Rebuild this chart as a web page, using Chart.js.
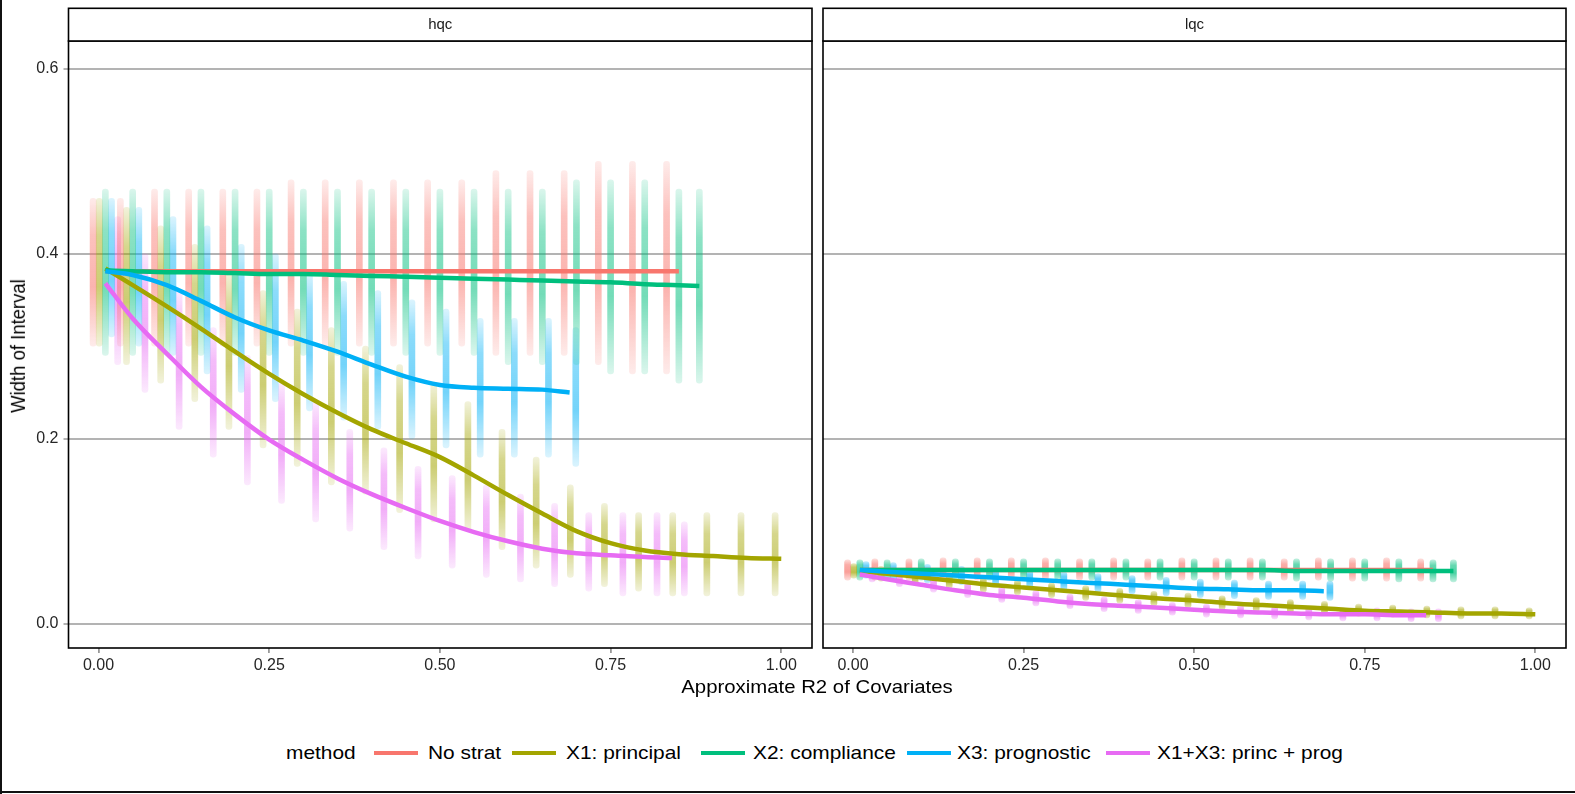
<!DOCTYPE html>
<html>
<head>
<meta charset="utf-8">
<script src="https://cdn.jsdelivr.net/npm/chart.js@4.4.0/dist/chart.umd.min.js"></script>
<style>
html,body{margin:0;padding:0;background:#fff;}
#wrap{position:relative;width:1575px;height:794px;overflow:hidden;background:#fff;font-family:"Liberation Sans",Arial,Helvetica,sans-serif;color:#000;}
#frameL{position:absolute;left:0;top:0;width:2px;height:794px;background:#111;}
#frameB{position:absolute;left:0;top:791px;width:1575px;height:2px;background:#111;}
.cv{position:absolute;top:0;}
#ytitle{position:absolute;left:18px;top:346px;transform:translate(-50%,-50%) rotate(-90deg) scaleY(1.1);font-size:18.5px;white-space:nowrap;}
#xtitle{position:absolute;left:817px;top:687px;transform:translate(-50%,-50%) scaleX(1.1);font-size:18.5px;white-space:nowrap;}
.lg{position:absolute;top:753px;font-size:19px;white-space:nowrap;transform-origin:0 50%;transform:translateY(-50%) scaleX(1.1);}
.key{position:absolute;top:751px;height:4px;}
</style>
</head>
<body>
<div id="wrap">
  <div id="frameL"></div>
  <div id="frameB"></div>
  <canvas id="cA" class="cv" style="left:0px" width="818" height="700"></canvas>
  <canvas id="cB" class="cv" style="left:818px" width="757" height="700"></canvas>
  <div id="ytitle">Width of Interval</div>
  <div id="xtitle">Approximate R2 of Covariates</div>
</div>
<script>
// ---------------- data ----------------
const facets = ['hqc', 'lqc'];
const methods = ['No strat', 'X1: principal', 'X2: compliance', 'X3: prognostic', 'X1+X3: princ + prog'];
const methodColors = ['#F8766D', '#A3A500', '#00BF7D', '#00B0F6', '#E76BF3'];
const xTickValues = [0, 0.25, 0.5, 0.75, 1];
const xTickLabels = ['0.00', '0.25', '0.50', '0.75', '1.00'];
const yTickValues = [0, 0.2, 0.4, 0.6];
const yTickLabels = ['0.0', '0.2', '0.4', '0.6'];

// R2 values (x) at which each method's simulations sit (shared by both facets)
const noStratX   = [0.01,0.05,0.10,0.15,0.20,0.25,0.30,0.35,0.40,0.45,0.50,0.55,0.60,0.65,0.70,0.75,0.80,0.85];
const principalX = [0.01,0.05,0.10,0.15,0.20,0.25,0.30,0.35,0.40,0.45,0.50,0.55,0.60,0.65,0.70,0.75,0.80,0.85,0.90,0.95,1.00];
const complianceX= [0.01,0.05,0.10,0.15,0.20,0.25,0.30,0.35,0.40,0.45,0.50,0.55,0.60,0.65,0.70,0.75,0.80,0.85,0.88];
const prognosticX= [0.01,0.05,0.10,0.15,0.20,0.25,0.30,0.35,0.40,0.45,0.50,0.55,0.60,0.65,0.69];
const princProgX = [0.01,0.05,0.10,0.15,0.20,0.25,0.30,0.35,0.40,0.45,0.50,0.55,0.60,0.65,0.70,0.75,0.80,0.84];

// ---- hqc: point cloud (low / high of each vertical stripe) ----
const hqcNoStratLo    = [0.30,0.30,0.30,0.30,0.30,0.30,0.30,0.30,0.30,0.30,0.30,0.30,0.29,0.29,0.29,0.28,0.27,0.27];
const hqcNoStratHi    = [0.46,0.46,0.47,0.47,0.47,0.47,0.48,0.48,0.48,0.48,0.48,0.48,0.49,0.49,0.49,0.50,0.50,0.50];
const hqcPrincipalLo  = [0.30,0.28,0.26,0.24,0.21,0.19,0.17,0.15,0.14,0.12,0.11,0.10,0.08,0.06,0.05,0.04,0.035,0.03,0.03,0.03,0.03];
const hqcPrincipalHi  = [0.46,0.45,0.43,0.41,0.38,0.36,0.34,0.32,0.30,0.28,0.26,0.24,0.21,0.18,0.15,0.13,0.12,0.12,0.12,0.12,0.12];
const hqcComplianceLo = [0.29,0.29,0.29,0.29,0.29,0.29,0.29,0.29,0.29,0.29,0.29,0.29,0.28,0.28,0.28,0.27,0.27,0.26,0.26];
const hqcComplianceHi = [0.47,0.47,0.47,0.47,0.47,0.47,0.47,0.47,0.47,0.47,0.47,0.47,0.47,0.47,0.48,0.48,0.48,0.47,0.47];
const hqcPrognosticLo = [0.31,0.30,0.29,0.27,0.25,0.24,0.23,0.22,0.21,0.20,0.19,0.18,0.18,0.18,0.17];
const hqcPrognosticHi = [0.46,0.45,0.44,0.43,0.41,0.40,0.38,0.37,0.36,0.35,0.34,0.33,0.33,0.33,0.32];
const hqcPrincProgLo  = [0.28,0.25,0.21,0.18,0.15,0.13,0.11,0.10,0.08,0.07,0.06,0.05,0.045,0.04,0.035,0.03,0.03,0.03];
const hqcPrincProgHi  = [0.44,0.40,0.36,0.32,0.29,0.26,0.24,0.21,0.19,0.17,0.16,0.15,0.14,0.13,0.12,0.12,0.12,0.11];
// ---- hqc: smoothed fits ----
const hqcNoStratFit    = [0.381,0.381,0.381,0.381,0.381,0.381,0.381,0.381,0.381,0.381,0.381,0.381,0.381,0.381,0.381,0.381,0.381,0.381];
const hqcPrincipalFit  = [0.384,0.366,0.343,0.319,0.294,0.270,0.248,0.228,0.210,0.195,0.180,0.160,0.139,0.119,0.100,0.087,0.079,0.075,0.073,0.071,0.070];
const hqcComplianceFit = [0.382,0.381,0.380,0.380,0.379,0.378,0.378,0.377,0.376,0.375,0.374,0.373,0.372,0.371,0.370,0.369,0.367,0.366,0.365];
const hqcPrognosticFit = [0.381,0.377,0.366,0.349,0.331,0.317,0.306,0.294,0.280,0.267,0.258,0.255,0.254,0.253,0.250];
const hqcPrincProgFit  = [0.368,0.330,0.292,0.256,0.226,0.199,0.177,0.157,0.140,0.125,0.111,0.099,0.089,0.081,0.076,0.074,0.072,0.071];

// ---- lqc: point cloud ----
const lqcNoStratLo    = [0.047,0.047,0.047,0.047,0.047,0.047,0.047,0.047,0.047,0.047,0.047,0.047,0.047,0.047,0.047,0.046,0.046,0.046];
const lqcNoStratHi    = [0.069,0.070,0.070,0.071,0.071,0.071,0.071,0.070,0.071,0.070,0.071,0.071,0.071,0.070,0.071,0.071,0.071,0.070];
const lqcPrincipalLo  = [0.049,0.046,0.042,0.038,0.034,0.031,0.028,0.025,0.022,0.019,0.017,0.015,0.013,0.011,0.009,0.008,0.007,0.006,0.005,0.005,0.005];
const lqcPrincipalHi  = [0.065,0.062,0.058,0.054,0.050,0.047,0.044,0.041,0.038,0.035,0.033,0.030,0.028,0.026,0.024,0.021,0.020,0.019,0.018,0.018,0.017];
const lqcComplianceLo = [0.047,0.047,0.047,0.047,0.047,0.047,0.047,0.047,0.047,0.047,0.047,0.047,0.047,0.046,0.046,0.046,0.045,0.045,0.045];
const lqcComplianceHi = [0.069,0.069,0.070,0.070,0.070,0.070,0.070,0.070,0.070,0.070,0.070,0.070,0.070,0.070,0.070,0.070,0.070,0.069,0.069];
const lqcPrognosticLo = [0.049,0.046,0.044,0.042,0.040,0.038,0.036,0.034,0.032,0.030,0.028,0.027,0.026,0.026,0.025];
const lqcPrognosticHi = [0.067,0.066,0.064,0.062,0.060,0.058,0.056,0.054,0.052,0.050,0.048,0.047,0.046,0.046,0.046];
const lqcPrincProgLo  = [0.045,0.040,0.034,0.028,0.023,0.019,0.016,0.013,0.011,0.009,0.007,0.006,0.005,0.004,0.003,0.003,0.002,0.002];
const lqcPrincProgHi  = [0.061,0.057,0.051,0.045,0.040,0.036,0.032,0.029,0.026,0.023,0.021,0.020,0.019,0.018,0.017,0.017,0.016,0.016];
// ---- lqc: smoothed fits ----
const lqcNoStratFit    = [0.058,0.058,0.058,0.058,0.058,0.058,0.058,0.058,0.058,0.058,0.058,0.058,0.058,0.058,0.058,0.058,0.058,0.058];
const lqcPrincipalFit  = [0.057,0.054,0.050,0.046,0.042,0.039,0.036,0.033,0.030,0.027,0.025,0.022,0.020,0.018,0.016,0.014,0.013,0.012,0.011,0.011,0.010];
const lqcComplianceFit = [0.058,0.058,0.058,0.058,0.058,0.058,0.058,0.058,0.058,0.058,0.058,0.058,0.058,0.057,0.057,0.057,0.057,0.057,0.057];
const lqcPrognosticFit = [0.058,0.056,0.054,0.052,0.050,0.048,0.046,0.044,0.042,0.040,0.038,0.037,0.036,0.036,0.035];
const lqcPrincProgFit  = [0.053,0.048,0.042,0.036,0.031,0.028,0.024,0.021,0.019,0.017,0.015,0.013,0.012,0.011,0.010,0.010,0.009,0.009];

// ---------------- assembly ----------------
const xsByMethod = [noStratX, principalX, complianceX, prognosticX, princProgX];
const facetData = {
  hqc: {
    lo:  [hqcNoStratLo, hqcPrincipalLo, hqcComplianceLo, hqcPrognosticLo, hqcPrincProgLo],
    hi:  [hqcNoStratHi, hqcPrincipalHi, hqcComplianceHi, hqcPrognosticHi, hqcPrincProgHi],
    fit: [hqcNoStratFit, hqcPrincipalFit, hqcComplianceFit, hqcPrognosticFit, hqcPrincProgFit]
  },
  lqc: {
    lo:  [lqcNoStratLo, lqcPrincipalLo, lqcComplianceLo, lqcPrognosticLo, lqcPrincProgLo],
    hi:  [lqcNoStratHi, lqcPrincipalHi, lqcComplianceHi, lqcPrognosticHi, lqcPrincProgHi],
    fit: [lqcNoStratFit, lqcPrincipalFit, lqcComplianceFit, lqcPrognosticFit, lqcPrincProgFit]
  }
};
// visual density of the point clouds per facet (style, not data)
const cloudAlpha = { hqc: [0.14, 0.45, 0.55, 0.14], lqc: [0.25, 0.6, 0.7, 0.25] };

function rgba(hex, a) {
  const n = parseInt(hex.slice(1), 16);
  return 'rgba(' + ((n >> 16) & 255) + ',' + ((n >> 8) & 255) + ',' + (n & 255) + ',' + a + ')';
}
function stripeFill(hex, al) {
  return function (ctx) {
    const chart = ctx.chart;
    const ys = chart.scales && chart.scales.y;
    const raw = ctx.raw;
    if (!ys || !raw || !Array.isArray(raw.y)) return rgba(hex, al[1]);
    const pHi = ys.getPixelForValue(raw.y[1]);
    const pLo = ys.getPixelForValue(raw.y[0]);
    if (!isFinite(pHi) || !isFinite(pLo) || Math.abs(pLo - pHi) < 1) return rgba(hex, al[1]);
    const g = chart.ctx.createLinearGradient(0, pHi, 0, pLo);
    g.addColorStop(0, rgba(hex, al[0]));
    g.addColorStop(0.25, rgba(hex, al[1]));
    g.addColorStop(0.6, rgba(hex, al[2]));
    g.addColorStop(1, rgba(hex, al[3]));
    return g;
  };
}

const DODGE = 0.009; // horizontal dodge between methods (like position_dodge)

function buildDatasets(facet) {
  const d = facetData[facet];
  const sets = [];
  methods.forEach((m, k) => {
    const xs = xsByMethod[k];
    sets.push({
      type: 'bar',
      label: m + ' points',
      data: xs.map((x, i) => ({ x: x + (k - 2) * DODGE, y: [d.lo[k][i], d.hi[k][i]] })),
      backgroundColor: stripeFill(methodColors[k], cloudAlpha[facet]),
      borderWidth: 0,
      borderSkipped: false,
      borderRadius: 3,
      barThickness: 6,
      grouped: false,
      order: 20 + k
    });
  });
  methods.forEach((m, k) => {
    const xs = xsByMethod[k];
    sets.push({
      type: 'line',
      label: m,
      data: xs.map((x, i) => ({ x: x, y: d.fit[k][i] })),
      borderColor: methodColors[k],
      backgroundColor: methodColors[k],
      borderWidth: 4.5,
      pointRadius: 0,
      fill: false,
      cubicInterpolationMode: 'monotone',
      order: 10 - k
    });
  });
  return sets;
}

const stripPlugin = {
  id: 'strip',
  afterDraw(chart, args, opts) {
    const a = chart.chartArea;
    const c = chart.ctx;
    c.save();
    c.lineWidth = 1.6;
    c.strokeStyle = '#000';
    c.strokeRect(a.left, a.top, a.right - a.left, a.bottom - a.top);
    const sTop = a.top - 32.7;
    c.fillStyle = '#fff';
    c.fillRect(a.left, sTop, a.right - a.left, 32.7);
    c.strokeRect(a.left, sTop, a.right - a.left, 32.7);
    c.fillStyle = '#1a1a1a';
    c.font = '15px "Liberation Sans", Arial, sans-serif';
    c.textAlign = 'center';
    c.textBaseline = 'middle';
    c.fillText(opts.label, (a.left + a.right) / 2, sTop + 16.5);
    c.restore();
  }
};

function makeChart(canvasId, facet, showY, padding, yWidth) {
  return new Chart(document.getElementById(canvasId), {
    type: 'bar',
    data: { datasets: buildDatasets(facet) },
    options: {
      responsive: false,
      devicePixelRatio: 1,
      animation: false,
      events: [],
      layout: { padding: padding },
      plugins: { legend: { display: false }, tooltip: { enabled: false }, strip: { label: facet } },
      scales: {
        x: {
          type: 'linear',
          min: -0.044, max: 1.045,
          offset: false,
          afterBuildTicks: s => { s.ticks = xTickValues.map(v => ({ value: v })); },
          afterFit: s => { s.height = 52; },
          ticks: {
            callback: (v) => xTickLabels[xTickValues.indexOf(v)],
            color: '#262626', font: { size: 16, family: '"Liberation Sans", Arial, sans-serif' },
            padding: 3, maxRotation: 0, autoSkip: false
          },
          grid: { offset: false, drawOnChartArea: false, drawTicks: true, tickLength: 5, color: '#999999', lineWidth: 1.8 },
          border: { display: false }
        },
        y: {
          type: 'linear',
          min: -0.0264, max: 0.630,
          afterBuildTicks: s => { s.ticks = yTickValues.map(v => ({ value: v })); },
          afterFit: s => { s.width = yWidth; },
          ticks: {
            display: showY,
            callback: (v) => yTickLabels[yTickValues.indexOf(v)],
            color: '#262626', font: { size: 16, family: '"Liberation Sans", Arial, sans-serif' },
            padding: 5
          },
          grid: { offset: false, color: '#b3b3b3', lineWidth: 2, drawTicks: showY, tickLength: 5 },
          border: { display: false }
        }
      }
    },
    plugins: [stripPlugin]
  });
}

makeChart('cA', 'hqc', true, { left: 0, top: 41, right: 6, bottom: 0 }, 68.5);
makeChart('cB', 'lqc', false, { left: 5, top: 41, right: 9, bottom: 0 }, 0);

// legend (HTML, positioned like the reference)
const legendTitle = 'method';
const legendKeyLeft = [374, 512, 701, 907, 1106];
const legendTextLeft = [428, 566, 753, 957, 1157];
const wrap = document.getElementById('wrap');
const t = document.createElement('div'); t.className = 'lg'; t.style.left = '286px'; t.textContent = legendTitle; wrap.appendChild(t);
methods.forEach((m, k) => {
  const key = document.createElement('div'); key.className = 'key';
  key.style.left = legendKeyLeft[k] + 'px'; key.style.width = '44px'; key.style.background = methodColors[k];
  wrap.appendChild(key);
  const lab = document.createElement('div'); lab.className = 'lg'; lab.style.left = legendTextLeft[k] + 'px'; lab.textContent = m;
  wrap.appendChild(lab);
});
</script>
</body>
</html>
